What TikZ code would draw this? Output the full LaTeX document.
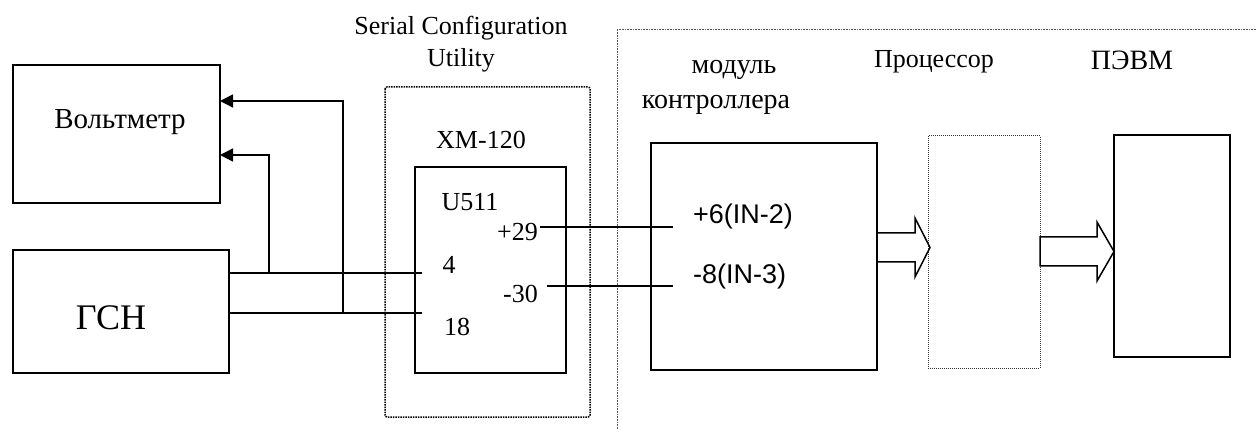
\documentclass[tikz,border=0pt]{standalone}
\usepackage{fontspec}
\setmainfont{Liberation Serif}
\newfontfamily\arialfont{Liberation Sans}
\usetikzlibrary{arrows.meta,positioning}

\begin{document}
\begin{tikzpicture}[x=1pt,y=-1pt,
    blok/.style={draw, line width=1.6pt, inner sep=0pt},
    tochki/.style={draw, line width=1.5pt, densely dotted, rounded corners=2pt},
    redkie/.style={draw, line width=0.6pt, densely dotted, gray!70!black},
    provod/.style={line width=1.5pt},
    strelka/.style={provod, -{Triangle[length=13pt,width=13pt]}},
    shina/.style={line width=1.5pt, line join=miter},
    nadpis/.style={font=\fontsize{26}{32}\selectfont, inner sep=0pt},
    kirill/.style={font=\fontsize{28}{32}\selectfont, inner sep=0pt},
    vhod/.style={font=\arialfont\fontsize{27}{31}\selectfont, inner sep=0pt}]

    \useasboundingbox (0,0) rectangle (1256,430);

    % dotted frames
    \draw[tochki] (385,87) rectangle (590,417);
    \draw[redkie] (1256,29) -- (617,29) -- (617,430);

    % boxes
    \node[blok, minimum width=207pt, minimum height=138pt] (volt) at (116.5,134) {};
    \node[blok, minimum width=216pt, minimum height=123pt] (gsn) at (121,311.5) {};
    \node[blok, minimum width=151pt, minimum height=206pt] (u511) at (490.5,270) {};
    \node[blok, minimum width=226pt, minimum height=227pt] (ctrl) at (764,256.5) {};
    \node[draw, line width=1pt, densely dotted, black!80, inner sep=0pt,
          minimum width=112pt, minimum height=232pt] (proc) at (984,252) {};
    \node[blok, minimum width=116pt, minimum height=222pt] (pevm) at (1172,246) {};

    % labels
    \node[kirill, font=\fontsize{29}{32}\selectfont] (tvolt) at (120,122) {Вольтметр};
    \node[nadpis, font=\fontsize{36}{40}\selectfont] (tgsn) at (111,318) {ГСН};
    \node[nadpis, align=center] (tscu) at (461,44) {Serial Configuration\\Utility};
    \node[nadpis] (txm) at (481,140) {XM-120};
    \node[nadpis] (tu) at (470,202) {U511};
    \node[nadpis, anchor=east] (t29) at (538,232) {+29};
    \node[nadpis] (t4) at (449,265) {4};
    \node[nadpis, anchor=east] (t30) at (538,294) {-30};
    \node[nadpis] (t18) at (457,327) {18};
    \node[vhod, anchor=west] (tin2) at (693,217) {+6(IN-2)};
    \node[vhod, anchor=west] (tin3) at (693,277) {-8(IN-3)};
    \node[kirill] (tmod) at (734,70) {модуль};
    \node[kirill] (tkon) at (716,105) {контроллера};
    \node[nadpis] (tproc) at (934,62) {Процессор};
    \node[kirill] (tpevm) at (1132,60) {ПЭВМ};

    % wires
    \coordinate (in4) at (422,273);
    \coordinate (in18) at (422,313);
    \coordinate (j4) at (269,273);
    \coordinate (j18) at (343,313);
    \coordinate (v4) at (220,155);
    \coordinate (v18) at (220,101);
    \draw[provod] (gsn.east |- in4) -- (in4);
    \draw[provod] (gsn.east |- in18) -- (in18);
    \draw[strelka] (j4) |- (v4);
    \draw[strelka] (j18) |- (v18);

    \coordinate (out29) at (540,227);
    \coordinate (out30) at (547,286);
    \coordinate (in6) at (673,227);
    \coordinate (in8) at (673,286);
    \draw[provod] (out29) -- (in6);
    \draw[provod] (out30) -- (in8);

    % wide arrows
    \draw[shina] (877,233) -- (915,233) -- (915,218) -- (930,247.5)
        -- (915,277) -- (915,262) -- (877,262);
    \draw[shina] (1040,237) -- (1097,237) -- (1097,222) -- (1114,251.5)
        -- (1097,281) -- (1097,266) -- (1040,266) -- cycle;
\end{tikzpicture}
\end{document}
